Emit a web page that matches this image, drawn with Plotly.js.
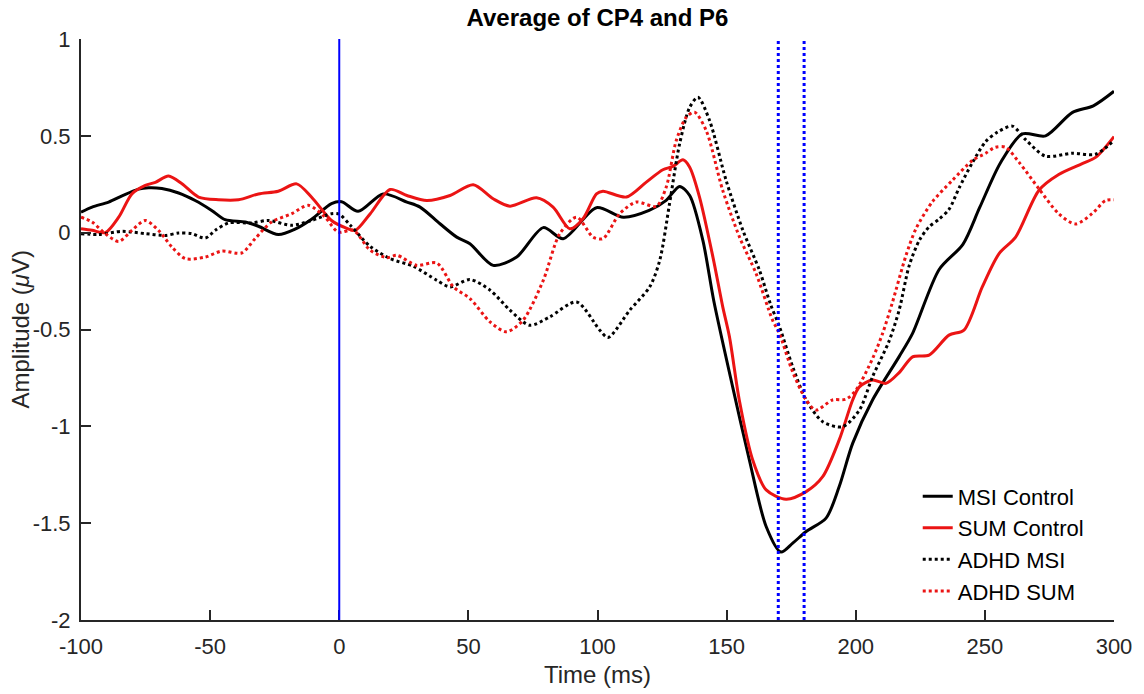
<!DOCTYPE html>
<html>
<head>
<meta charset="utf-8">
<script src="https://cdn.plot.ly/plotly-3.0.1.min.js"></script>
<style>
  html, body { margin: 0; padding: 0; background: #ffffff; }
  #chart { width: 1144px; height: 694px; }
</style>
</head>
<body>
<div id="chart"></div>
<script>
// ---------- data ----------
const chartTitle = 'Average of CP4 and P6';
const xAxisTitle = 'Time (ms)';
const yAxisTitle = 'Amplitude (<i>μ</i>V)';

const seriesNames = ['MSI Control', 'SUM Control', 'ADHD MSI', 'ADHD SUM'];

const msiControlT = [-100, -95.7, -89.3, -84.1, -77.7, -73.8, -68.7, -62.2, -55.8, -49.4, -44.2, -36.4, -31.3, -23.6, -17.1, -10.7, -3, 0.9, 7.3, 17, 26.2, 31.3, 39, 45.5, 50.6, 59.6, 68.7, 79, 86.7, 99.6, 110, 120, 126.6, 131.8, 135.7, 140.8, 145, 152.4, 158.8, 165.3, 171, 175.6, 180.8, 188.5, 193.6, 198.8, 206.5, 216.8, 222, 232.3, 241.5, 248, 256, 264.5, 273.5, 283.8, 292, 300];
const msiControlV = [0.106, 0.132, 0.158, 0.19, 0.225, 0.232, 0.228, 0.205, 0.166, 0.115, 0.067, 0.055, 0.033, -0.01, 0.018, 0.069, 0.15, 0.16, 0.11, 0.2, 0.158, 0.132, 0.046, -0.023, -0.057, -0.169, -0.126, 0.026, -0.031, 0.129, 0.08, 0.115, 0.167, 0.239, 0.192, -0.04, -0.35, -0.8, -1.174, -1.517, -1.649, -1.603, -1.543, -1.474, -1.311, -1.088, -0.864, -0.64, -0.52, -0.19, -0.06, 0.13, 0.36, 0.51, 0.5, 0.62, 0.655, 0.73];

const sumControlT = [-100, -95.7, -90.6, -85.4, -80.3, -75.1, -71.2, -66.1, -60.9, -54.5, -46.8, -39, -31.3, -23.6, -16.5, -10.7, -3, 2.5, 6.2, 12, 19.7, 26.2, 33.9, 42.9, 51.9, 59.6, 66.1, 76.4, 82.8, 89.3, 94.4, 99.6, 102.1, 111.2, 118.9, 125.3, 129.2, 133.1, 135.7, 139.5, 144.7, 148.5, 151.1, 154.9, 160.1, 165.3, 173, 180.8, 187.2, 193.6, 198.8, 201.4, 206.5, 211.7, 217, 222, 228.4, 236.1, 241.9, 249, 255.5, 261.9, 270.9, 278.6, 287.7, 293, 300];
const sumControlV = [0.02, 0.012, 0.0, 0.08, 0.2, 0.244, 0.26, 0.292, 0.252, 0.184, 0.17, 0.17, 0.2, 0.214, 0.252, 0.183, 0.063, 0.025, 0.012, 0.098, 0.223, 0.192, 0.166, 0.192, 0.247, 0.175, 0.137, 0.18, 0.132, 0.02, 0.072, 0.2, 0.214, 0.184, 0.261, 0.325, 0.342, 0.376, 0.338, 0.184, -0.126, -0.383, -0.538, -0.864, -1.174, -1.328, -1.376, -1.337, -1.26, -1.07, -0.864, -0.796, -0.761, -0.778, -0.72, -0.641, -0.632, -0.529, -0.503, -0.28, -0.108, -0.023, 0.218, 0.3, 0.356, 0.39, 0.496];

const adhdMsiT = [-100, -93.1, -84.1, -75.1, -67.4, -62.2, -57.1, -51.9, -48, -42.9, -33.9, -27.4, -18.4, -10.7, -3, 0, 4.3, 12, 19.7, 28.7, 37.8, 42.9, 50.6, 58.4, 66.1, 73.8, 81.5, 91.9, 100.9, 104.1, 112.5, 120.2, 124.1, 127.9, 131.8, 135.7, 138.9, 143.4, 149.8, 156.3, 162.7, 167, 170.5, 175.6, 180.8, 187.2, 194.9, 201.4, 206.5, 212.9, 216.8, 220.7, 224.6, 228.4, 232.3, 236.1, 240, 245.1, 250.3, 255, 260.6, 265.8, 273.5, 283.8, 292.8, 300];
const adhdMsiV = [-0.005, -0.009, 0.007, -0.005, -0.014, -0.002, -0.005, -0.028, 0.012, 0.05, 0.05, 0.063, 0.038, 0.063, 0.098, 0.095, 0.038, -0.071, -0.134, -0.174, -0.246, -0.28, -0.242, -0.297, -0.4, -0.478, -0.435, -0.358, -0.504, -0.541, -0.4, -0.28, -0.143, 0.15, 0.459, 0.647, 0.699, 0.579, 0.27, 0.012, -0.194, -0.37, -0.487, -0.693, -0.864, -0.976, -1.002, -0.916, -0.744, -0.56, -0.4, -0.17, -0.04, 0.03, 0.07, 0.12, 0.23, 0.36, 0.47, 0.52, 0.55, 0.48, 0.395, 0.41, 0.405, 0.476];

const adhdSumT = [-100, -95.7, -90.6, -85.4, -80.3, -75.1, -70, -64.8, -59.6, -51.9, -45.5, -37.8, -32.6, -26.2, -18.4, -12, -5.5, -0.4, 5.5, 12, 18.4, 22.3, 30, 37.8, 44.2, 50.6, 58.4, 64.8, 71.2, 79, 85.4, 91.9, 98.3, 102.1, 108.6, 115, 122.8, 126.6, 130.5, 134.4, 137.6, 142.1, 148.5, 155, 161.4, 167.8, 170.4, 175.6, 180.8, 184.6, 191, 196.2, 200.1, 206.5, 210.4, 214.2, 219.4, 223.3, 229.7, 237.4, 245.2, 250.3, 254, 258, 263.2, 270.9, 278.6, 285.1, 291.5, 296.7, 300];
const adhdSumV = [0.08, 0.055, -0.005, -0.045, 0.012, 0.063, 0.012, -0.074, -0.134, -0.126, -0.095, -0.105, -0.031, 0.055, 0.098, 0.141, 0.08, 0.003, 0.012, -0.091, -0.129, -0.117, -0.169, -0.157, -0.28, -0.34, -0.461, -0.512, -0.452, -0.246, -0.005, 0.08, -0.023, -0.031, 0.098, 0.158, 0.136, 0.235, 0.476, 0.596, 0.622, 0.527, 0.218, -0.023, -0.211, -0.452, -0.52, -0.72, -0.864, -0.916, -0.864, -0.86, -0.813, -0.65, -0.52, -0.36, -0.12, 0.02, 0.16, 0.27, 0.373, 0.41, 0.441, 0.441, 0.364, 0.227, 0.098, 0.045, 0.098, 0.166, 0.17];

const eventTimes = [0];
const windowTimes = [170, 180];

const xRange = [-100, 300];
const yRange = [-2, 1];
const xTickVals = [-100, -50, 0, 50, 100, 150, 200, 250, 300];
const xTickText = ['-100', '-50', '0', '50', '100', '150', '200', '250', '300'];
const yTickVals = [-2, -1.5, -1, -0.5, 0, 0.5, 1];
const yTickText = ['-2', '-1.5', '-1', '-0.5', '0', '0.5', '1'];

// ---------- styles ----------
const FONT = 'Liberation Sans, Arial, Helvetica, sans-serif';
const AXIS = '#262626';
const RED = 'rgb(235,20,20)';
const BLUE = '#0000ff';

function trace(t, v, name, color, dash) {
  return {
    type: 'scatter', mode: 'lines', x: t, y: v, name: name,
    line: { color: color, width: 3, dash: dash, shape: 'spline', smoothing: 0.8 }
  };
}

const data = [
  trace(msiControlT, msiControlV, seriesNames[0], '#000000', 'solid'),
  trace(sumControlT, sumControlV, seriesNames[1], RED, 'solid'),
  trace(adhdMsiT, adhdMsiV, seriesNames[2], '#000000', 'dot'),
  trace(adhdSumT, adhdSumV, seriesNames[3], RED, 'dot')
];

const shapes = [];
eventTimes.forEach(t => shapes.push({
  type: 'line', xref: 'x', yref: 'y', x0: t, x1: t, y0: yRange[0], y1: yRange[1],
  line: { color: BLUE, width: 2 }, layer: 'above'
}));
windowTimes.forEach(t => shapes.push({
  type: 'line', xref: 'x', yref: 'y', x0: t, x1: t, y0: yRange[0], y1: yRange[1],
  line: { color: BLUE, width: 3, dash: 'dot' }, layer: 'above'
}));

const axisCommon = {
  showgrid: false, zeroline: false, showline: true, linecolor: AXIS, linewidth: 2,
  ticks: 'inside', ticklen: 10, tickwidth: 2, tickcolor: AXIS,
  tickfont: { family: FONT, size: 22, color: AXIS }, mirror: false, automargin: false
};

const layout = {
  width: 1144, height: 694,
  margin: { l: 81, r: 30, t: 39, b: 74 },
  paper_bgcolor: '#ffffff', plot_bgcolor: '#ffffff',
  font: { family: FONT, color: AXIS },
  title: {
    text: '<b>' + chartTitle + '</b>',
    font: { family: FONT, size: 24, color: '#000000' },
    x: 0.5, xref: 'paper', y: 1 - 18 / 694, yref: 'container', yanchor: 'middle'
  },
  xaxis: Object.assign({}, axisCommon, {
    range: xRange, tickvals: xTickVals, ticktext: xTickText, ticklabelstandoff: 6,
    title: { text: xAxisTitle, font: { family: FONT, size: 24, color: AXIS }, standoff: 8 }
  }),
  yaxis: Object.assign({}, axisCommon, {
    range: yRange, tickvals: yTickVals, ticktext: yTickText, ticklabelstandoff: 4
  }),
  annotations: [{
    text: yAxisTitle, xref: 'paper', yref: 'paper', x: -0.059, y: 0.5,
    xanchor: 'center', yanchor: 'middle', textangle: -90, showarrow: false,
    font: { family: FONT, size: 24, color: AXIS }
  }],
  legend: {
    x: 0.81, y: 0.249, xanchor: 'left', yanchor: 'top',
    font: { family: FONT, size: 22, color: '#000000' },
    bgcolor: 'rgba(0,0,0,0)', borderwidth: 0, tracegroupgap: 0
  },
  showlegend: true,
  shapes: shapes
};

Plotly.newPlot('chart', data, layout, { displayModeBar: false, staticPlot: true });
</script>
</body>
</html>
